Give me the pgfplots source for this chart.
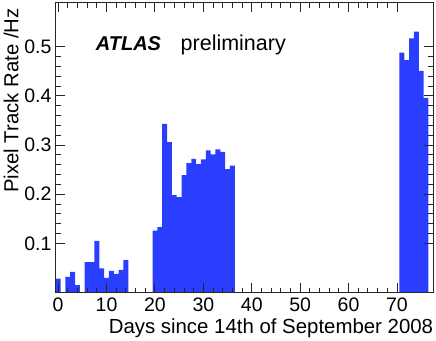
\documentclass[border=0pt]{standalone}
\usepackage{fontspec}
\setmainfont{Liberation Sans}
\usepackage{pgfplots}
\usepackage{pgfplotstable}
\pgfplotsset{compat=1.18}
\definecolor{histblue}{RGB}{42,62,255}

% pixel track rate per day (bin centre, rate in Hz)
\pgfplotstableread{
day rate
0 0.028
1 0
2 0.032
3 0.042
4 0.015
5 0
6 0.062
7 0.062
8 0.105
9 0.049
10 0.030
11 0.044
12 0.038
13 0.046
14 0.066
15 0
16 0
17 0
18 0
19 0
20 0.126
21 0.133
22 0.343
23 0.306
24 0.198
25 0.194
26 0.239
27 0.263
28 0.272
29 0.261
30 0.271
31 0.289
32 0.281
33 0.291
34 0.286
35 0.251
36 0.258
37 0
70 0
71 0.488
72 0.473
73 0.517
74 0.531
75 0.451
76 0.396
77 0
}\ratetable

\begin{document}
\begin{tikzpicture}
\begin{axis}[
    name=ax,
    scale only axis,
    width=377.6pt, height=289.8pt,
    xmin=-0.5, xmax=77.5,
    ymin=0, ymax=0.5896,
    xtick={0,10,...,70},
    ytick={0.1,0.2,0.3,0.4,0.5},
    minor x tick num=4,
    minor y tick num=4,
    tick align=inside,
    major tick length=9.5pt,
    minor tick length=5pt,
    axis line style={line width=1pt, black!85},
    every tick/.style={line width=0.9pt, black!85},
    /pgf/number format/assume math mode=true,
    yticklabel style={/pgf/number format/fixed, /pgf/number format/fixed zerofill, /pgf/number format/precision=1},
    xticklabel style={font=\fontsize{19.5}{20}\selectfont, inner sep=0pt, anchor=north, yshift=-5.3pt},
    yticklabel style={font=\fontsize{19.5}{20}\selectfont, inner sep=0pt, anchor=east, xshift=-4pt},
    axis on top,
  ]
  \addplot[const plot mark left, fill=histblue, draw=none]
    table[x expr=\thisrow{day}-0.5, y=rate] {\ratetable} \closedcycle;
\end{axis}
\node[anchor=base east, inner sep=0pt, font=\fontsize{20.4}{22}\selectfont]
  at ([yshift=-40.8pt]ax.south east) {Days since 14th of September 2008};
\node[rotate=90, anchor=base east, inner sep=0pt, font=\fontsize{20.3}{22}\selectfont]
  at ([xshift=-37.4pt, yshift=-5.6pt]ax.north west) {Pixel Track Rate /Hz};
\node[anchor=base west, inner sep=0pt, font=\fontsize{20}{22}\selectfont\bfseries\itshape]
  at ([xshift=40pt, yshift=-47.8pt]ax.north west) {ATLAS};
\node[anchor=base west, inner sep=0pt, font=\fontsize{21.5}{23}\selectfont]
  at ([xshift=124.8pt, yshift=-47.8pt]ax.north west) {preliminary};
\pgfresetboundingbox
\path[use as bounding box] ([xshift=-55.7pt, yshift=-47.5pt]ax.south west)
  rectangle ([xshift=2.7pt, yshift=2.7pt]ax.north east);
\end{tikzpicture}
\end{document}
